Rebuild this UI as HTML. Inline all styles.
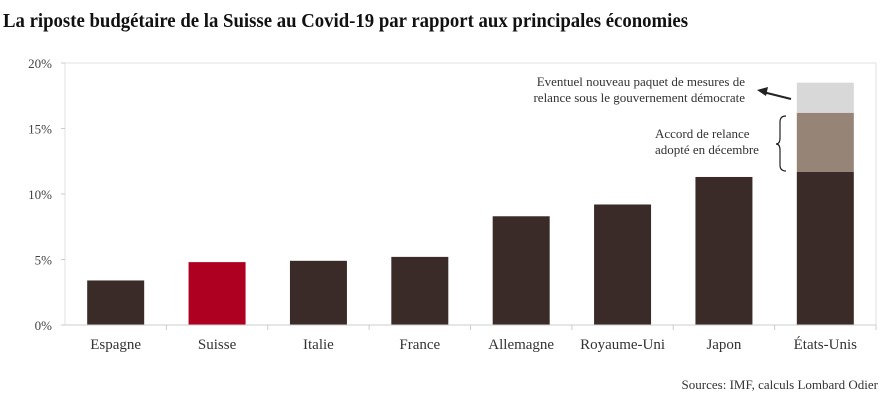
<!DOCTYPE html>
<html><head><meta charset="utf-8"><style>
body{margin:0;background:#fff;}
svg{display:block;font-family:"Liberation Serif",serif;}
</style></head><body>
<svg id="chart" width="887" height="400" viewBox="0 0 887 400">
<text x="3" y="27" font-size="20" font-weight="bold" fill="#111" textLength="685" lengthAdjust="spacingAndGlyphs">La riposte budgétaire de la Suisse au Covid-19 par rapport aux principales économies</text>
<rect x="65" y="63" width="811" height="262" fill="none" stroke="#e2e2e2" stroke-width="1"/>
<g id="yaxis"></g>
<g id="bars"></g>
<g id="xaxis"></g>
<g font-size="13" fill="#333">
<text x="745" y="86" text-anchor="end">Eventuel nouveau paquet de mesures de</text>
<text x="745" y="102" text-anchor="end">relance sous le gouvernement démocrate</text>
<line x1="791" y1="99" x2="763" y2="92" stroke="#222" stroke-width="2"/>
<polygon points="757,90 768,87 766,96" fill="#222"/>
<text x="655" y="138">Accord de relance</text>
<text x="655" y="154">adopté en décembre</text>
<path d="M786,116 Q780,116 780,122 L780,138 Q780,144 776,144 Q780,144 780,150 L780,165 Q780,171 786,171" fill="none" stroke="#222" stroke-width="1.2"/>
</g>
<text x="878" y="389" text-anchor="end" font-size="13" fill="#333">Sources: IMF, calculs Lombard Odier</text>
</svg>
<script>
const categories=["Espagne","Suisse","Italie","France","Allemagne","Royaume-Uni","Japon","États-Unis"];
const baseValues=[3.4,4.8,4.9,5.2,8.3,9.2,11.3,11.7];
const decemberValues=[0,0,0,0,0,0,0,4.5];
const newPackageValues=[0,0,0,0,0,0,0,2.3];
const yTicks=[0,5,10,15,20];
const yTickLabels=["0%","5%","10%","15%","20%"];
const NS="http://www.w3.org/2000/svg";
const x0=65,x1=876,yb=325,yt=63,yMax=20;
const step=(x1-x0)/categories.length;
const bw=57;
function y(v){return yb-(v/yMax)*(yb-yt);}
function cx(i){return x0+step*(i+0.5);}
function mk(t,a,p){const e=document.createElementNS(NS,t);for(const k in a)e.setAttribute(k,a[k]);p.appendChild(e);return e;}
const ya=document.getElementById('yaxis'),ba=document.getElementById('bars'),xa=document.getElementById('xaxis');
yTicks.forEach((v,i)=>{
  const l=mk('line',{x1:x0-4,x2:x0,y1:y(v),y2:y(v),stroke:'#ccc'},ya);
  
  
  const t=mk('text',{x:52,y:y(v)+5,'text-anchor':'end','font-size':13,fill:'#444'},ya);
  t.textContent=yTickLabels[i];
  
  
});
mk('line',{x1:x0,x2:x1,y1:yb,y2:yb,stroke:'#ccc'},xa);
categories.forEach((c,i)=>{
  const c0=cx(i);
  const stacks=[[0,baseValues[i],i===1?'#ae0020':'#3a2b28','bar-base'],
   [baseValues[i],baseValues[i]+decemberValues[i],'#968477','bar-december'],
   [baseValues[i]+decemberValues[i],baseValues[i]+decemberValues[i]+newPackageValues[i],'#d8d8d8','bar-new-package']];
  stacks.forEach(s=>{
    if(s[1]<=s[0])return;
    const r=mk('rect',{x:c0-bw/2,y:y(s[1]),width:bw,height:y(s[0])-y(s[1]),fill:s[2]},ba);
    
    
  });
  const tk=mk('line',{x1:x0+step*(i+1),x2:x0+step*(i+1),y1:yb,y2:yb+5,stroke:'#ccc'},xa);
  
  
  const t=mk('text',{x:c0,y:349,'text-anchor':'middle','font-size':15,fill:'#333'},xa);
  t.textContent=c;
  
  
});
</script>
</body></html>
